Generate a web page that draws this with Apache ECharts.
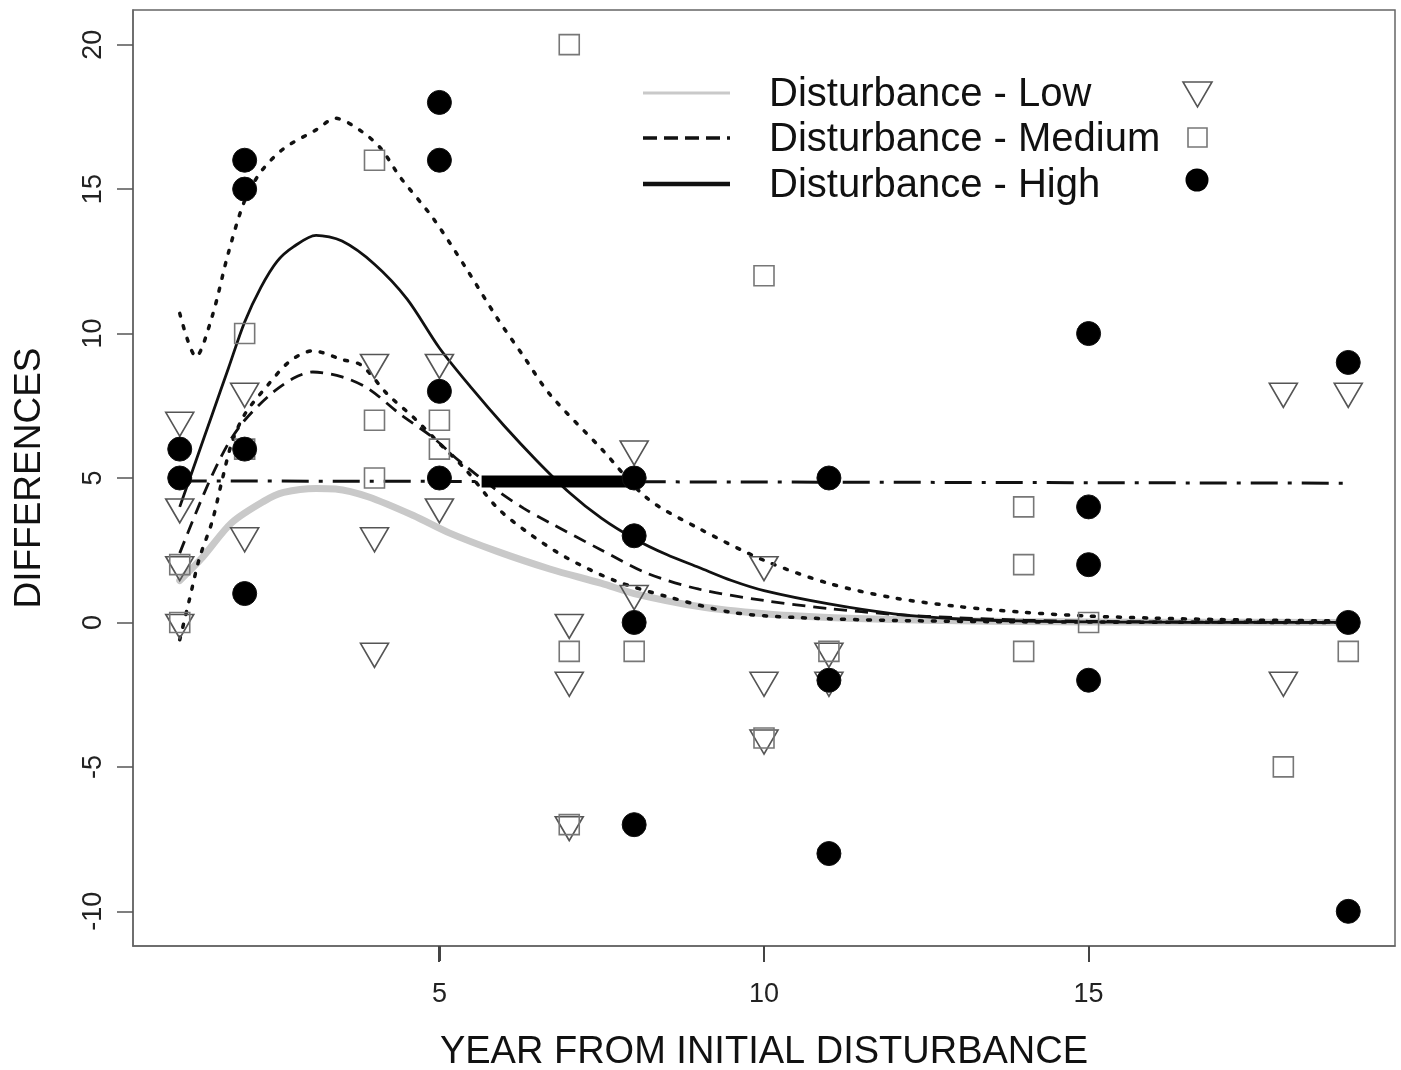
<!DOCTYPE html>
<html>
<head>
<meta charset="utf-8">
<script src="https://cdn.jsdelivr.net/npm/echarts@6/dist/echarts.min.js"></script>
<style>
html,body{margin:0;padding:0;background:#fff;}
#chart{width:1401px;height:1070px;}
</style>
</head>
<body>
<div id="chart"></div>
<script>
// ---------- DATA ----------
const xTicks = [5, 10, 15];
const yTicks = [-10, -5, 0, 5, 10, 15, 20];
const xMin = 0.28, xMax = 19.72, yMin = -11.2, yMax = 21.2;

// observed points [year, difference]
const lowPoints = [
  [1,7],[1,4],[1,2],[1,0],
  [2,8],[2,3],
  [4,9],[4,3],[4,-1],
  [5,9],[5,4],
  [7,0],[7,-2],[7,-7],
  [8,6],[8,1],
  [10,2],[10,-2],[10,-4],
  [11,-1],[11,-2],
  [18,8],[18,-2],
  [19,8]
];
const mediumPoints = [
  [1,2],[1,0],
  [2,10],[2,6],
  [4,16],[4,7],[4,5],
  [5,7],[5,6],
  [7,20],[7,-1],[7,-7],
  [8,-1],
  [10,12],[10,-4],
  [11,-1],
  [14,4],[14,2],[14,-1],
  [15,0],
  [18,-5],
  [19,-1]
];
const highPoints = [
  [1,6],[1,5],
  [2,16],[2,15],[2,6],[2,1],
  [5,18],[5,16],[5,8],[5,5],
  [8,5],[8,3],[8,0],[8,-7],
  [11,5],[11,-2],[11,-8],
  [15,10],[15,4],[15,2],[15,-2],
  [19,9],[19,0],[19,-10]
];

// fitted curves
const lowFit = [[1,1.45],[1.35,2.25],[1.8,3.45],[2.3,4.2],[2.6,4.5],[3.1,4.64],[3.4,4.62],[3.9,4.35],[4.6,3.7],[5.15,3.1],[5.9,2.45],[6.7,1.85],[7.5,1.35],[8,1.0],[9,0.55],[10,0.3],[11,0.17],[12,0.1],[13,0.06],[14,0.03],[16,0.01],[19,0]];
const mediumFit = [[1,2.4],[1.25,3.8],[1.5,5.1],[1.75,6.2],[2,7.0],[2.4,7.9],[2.75,8.45],[3.05,8.67],[3.5,8.5],[3.9,8.1],[4.4,7.2],[4.9,6.4],[5.3,5.6],[5.9,4.55],[6.3,3.95],[6.7,3.45],[7.5,2.5],[8.2,1.7],[9,1.15],[10,0.76],[11,0.48],[12,0.28],[13,0.16],[14,0.08],[15,0.04],[17,0.01],[19,0]];
const highFit = [[1,4.0],[1.25,5.6],[1.5,7.2],[1.75,8.8],[2,10.4],[2.25,11.6],[2.5,12.5],[2.75,13.0],[3.1,13.4],[3.5,13.2],[4,12.4],[4.5,11.2],[5,9.5],[5.5,8.1],[6,6.8],[6.5,5.6],[7,4.5],[7.5,3.6],[8,2.9],[8.5,2.35],[9,1.9],[9.5,1.45],[10,1.1],[11,0.64],[12,0.3],[13,0.12],[14,0.05],[15,0.02],[16,0.01],[17,0],[19,0]];
const upperBand = [[1,10.7],[1.25,9.2],[1.5,10.6],[1.75,12.8],[2,14.6],[2.25,15.6],[2.6,16.4],[3.1,17.05],[3.4,17.45],[3.8,17.0],[4.1,16.4],[4.4,15.4],[4.9,14.0],[5.4,12.3],[5.9,10.5],[6.3,9.2],[6.7,7.9],[7.5,6.0],[8.2,4.3],[9,3.25],[10,2.15],[11,1.35],[12,0.85],[13,0.55],[14,0.35],[15,0.22],[16,0.15],[17,0.1],[18,0.07],[19,0.05]];
const lowerBand = [[1,-0.6],[1.15,0.8],[1.3,2.2],[1.5,3.5],[1.65,4.9],[1.8,6.2],[2,7.2],[2.35,8.2],[2.7,9.05],[3.05,9.4],[3.5,9.1],[3.8,8.9],[4.2,7.9],[4.6,7.1],[5,6.2],[5.4,5.3],[5.9,3.95],[6.4,3.05],[6.95,2.25],[7.7,1.45],[8.5,0.9],[9.5,0.35],[10.5,0.17],[12,0.07],[14,0.02],[19,0]];
const meanLine = [[1,4.9],[19,4.82]];
const meanSegment = [[5.65,4.88],[7.95,4.88]];

const legendNames = ['Disturbance - Low', 'Disturbance - Medium', 'Disturbance - High'];

// ---------- CHART ----------
const FONT = '"Liberation Sans", Arial, sans-serif';
const GRID = {left: 133, top: 10, right: 6, bottom: 124};
const W = 1401, H = 1070;
const chart = echarts.init(document.getElementById('chart'), null, {renderer: 'canvas', width: W, height: H});

const lineBase = {type: 'line', symbol: 'none', smooth: 0.3, silent: true, animation: false, z: 2};
const legY = [93, 138, 184];

const legendGraphics = [
  {type: 'line', shape: {x1: 643, y1: legY[0], x2: 730, y2: legY[0]}, style: {stroke: '#c9c9c9', lineWidth: 3}},
  {type: 'line', shape: {x1: 643, y1: legY[1], x2: 730, y2: legY[1]}, style: {stroke: '#111', lineWidth: 3.5, lineDash: [14, 7]}},
  {type: 'line', shape: {x1: 643, y1: legY[2], x2: 730, y2: legY[2]}, style: {stroke: '#111', lineWidth: 4.5}},
  {type: 'text', left: 769, top: legY[0] - 18, style: {text: legendNames[0], font: '40px ' + FONT, fill: '#111'}},
  {type: 'text', left: 769, top: legY[1] - 18, style: {text: legendNames[1], font: '40px ' + FONT, fill: '#111'}},
  {type: 'text', left: 769, top: legY[2] - 18, style: {text: legendNames[2], font: '40px ' + FONT, fill: '#111'}},
  {type: 'polygon', shape: {points: [[1183, 82], [1212, 82], [1197.5, 107]]}, style: {fill: 'none', stroke: '#555', lineWidth: 1.6}},
  {type: 'rect', shape: {x: 1188, y: 128, width: 19, height: 19}, style: {fill: 'none', stroke: '#777', lineWidth: 1.6}},
  {type: 'circle', shape: {cx: 1197, cy: 180, r: 11.5}, style: {fill: '#000'}}
];

// x-axis tick marks: position from the chart's x scale (fallback: same linear mapping of the grid)
function xTickPixel(v) {
  let p = null;
  try { p = chart.convertToPixel({seriesIndex: 0}, [v, yMin]); } catch (e) { p = null; }
  if (!p || !isFinite(p[0]) || !isFinite(p[1])) {
    const w = W - GRID.left - GRID.right;
    p = [GRID.left + (v - xMin) / (xMax - xMin) * w, H - GRID.bottom];
  }
  return p;
}

const option = {
  animation: false,
  backgroundColor: '#ffffff',
  grid: {left: GRID.left, top: GRID.top, right: GRID.right, bottom: GRID.bottom, containLabel: false, outerBoundsMode: 'none',
    show: true, borderColor: '#666', borderWidth: 1.5, backgroundColor: 'transparent'},
  xAxis: {
    type: 'value', min: xMin, max: xMax, position: 'bottom',
    name: 'YEAR FROM INITIAL DISTURBANCE', nameLocation: 'middle', nameGap: 88,
    nameTextStyle: {fontFamily: FONT, fontSize: 38, color: '#111'},
    axisLine: {show: true, onZero: false, lineStyle: {color: '#666', width: 1.5}},
    axisTick: {show: true, inside: false, length: 15, lineStyle: {color: '#444', width: 2}, customValues: xTicks},
    axisLabel: {show: true, margin: 35, fontFamily: FONT, fontSize: 27, color: '#222', customValues: xTicks},
    splitLine: {show: false}
  },
  yAxis: {
    type: 'value', min: yMin, max: yMax, position: 'left',
    name: 'DIFFERENCES', nameLocation: 'middle', nameGap: 85,
    nameTextStyle: {fontFamily: FONT, fontSize: 37, color: '#111'},
    axisLine: {show: true, onZero: false, lineStyle: {color: '#666', width: 1.5}},
    axisTick: {show: true, inside: false, length: 16, lineStyle: {color: '#555', width: 1.5}, customValues: yTicks},
    axisLabel: {show: true, rotate: 90, margin: 26, fontFamily: FONT, fontSize: 27, color: '#222', customValues: yTicks},
    splitLine: {show: false}
  },
  series: [
    Object.assign({}, lineBase, {name: 'lowFit', data: lowFit, lineStyle: {color: '#c9c9c9', width: 7, cap: 'round'}}),
    Object.assign({}, lineBase, {name: 'upperBand', data: upperBand, lineStyle: {color: '#111', width: 3.5, type: [3, 10], cap: 'round'}}),
    Object.assign({}, lineBase, {name: 'lowerBand', data: lowerBand, lineStyle: {color: '#111', width: 3.5, type: [3, 10], cap: 'round'}}),
    Object.assign({}, lineBase, {name: 'mediumFit', data: mediumFit, lineStyle: {color: '#111', width: 2.8, type: [13, 8]}}),
    Object.assign({}, lineBase, {name: 'highFit', data: highFit, lineStyle: {color: '#111', width: 2.8}}),
    Object.assign({}, lineBase, {name: 'mean', smooth: false, data: meanLine, lineStyle: {color: '#111', width: 3, type: [27, 10, 4, 10]}}),
    Object.assign({}, lineBase, {name: 'meanSeg', smooth: false, data: meanSegment, lineStyle: {color: '#000', width: 12}}),
    {name: 'Low', type: 'scatter', data: lowPoints, symbol: 'triangle', symbolRotate: 180, symbolSize: [28, 24], symbolOffset: [0, 4],
      itemStyle: {color: 'rgba(0,0,0,0)', borderColor: '#555', borderWidth: 1.6, opacity: 1}, z: 5, silent: true},
    {name: 'Medium', type: 'scatter', data: mediumPoints, symbol: 'rect', symbolSize: 20,
      itemStyle: {color: 'rgba(0,0,0,0)', borderColor: '#777', borderWidth: 1.6, opacity: 1}, z: 5, silent: true},
    {name: 'High', type: 'scatter', data: highPoints, symbol: 'circle', symbolSize: 24,
      itemStyle: {color: '#000', borderColor: '#111', borderWidth: 1, opacity: 1}, z: 6, silent: true}
  ],
  graphic: legendGraphics
};
chart.setOption(option);

const tickGraphics = xTicks.map(function (v) {
  const p = xTickPixel(v);
  return {type: 'rect', z: 100, zlevel: 0, silent: true,
    shape: {x: Math.round(p[0]) - 1, y: Math.round(p[1]), width: 2, height: 16},
    style: {fill: '#444', stroke: null}};
});
chart.setOption({graphic: {elements: legendGraphics.concat(tickGraphics)}});
</script>
</body>
</html>
